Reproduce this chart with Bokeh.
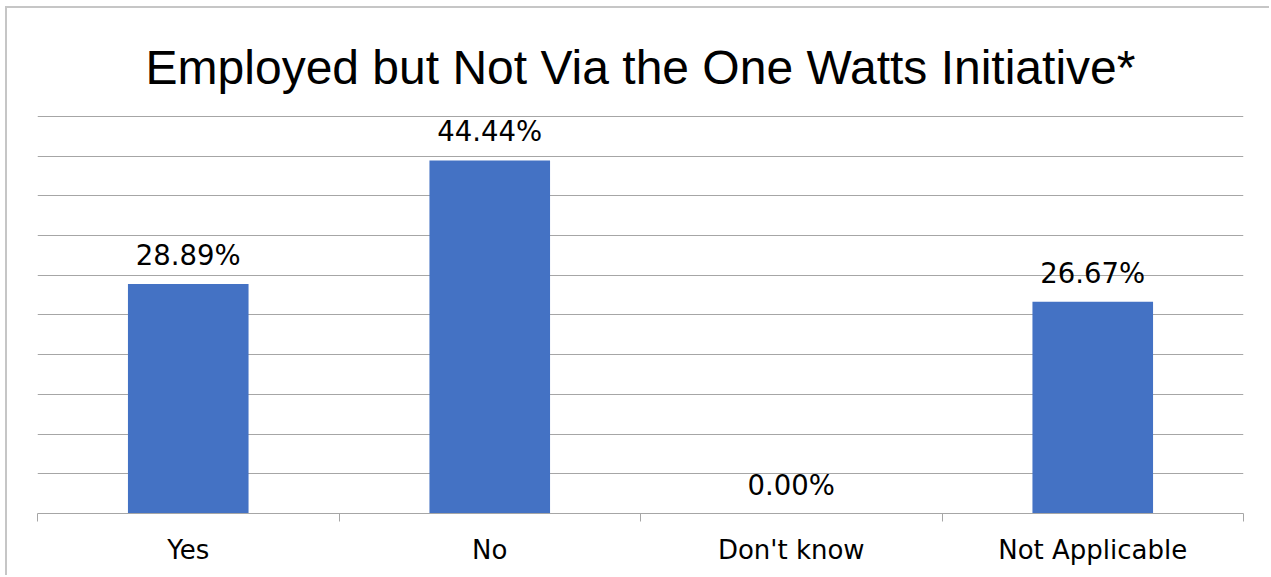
from bokeh.plotting import figure
from bokeh.models import ColumnDataSource, FixedTicker, SingleIntervalTicker, Range1d
from bokeh.core.properties import value
from bokeh.embed import file_html
from bokeh.resources import INLINE

categories = ["Yes", "No", "Don't know", "Not Applicable"]
percentages = [28.89, 44.44, 0.00, 26.67]
label_texts = ["28.89%", "44.44%", "0.00%", "26.67%"]
title_text = "Employed but Not Via the One Watts Initiative*"

xs = [i + 0.5 for i in range(len(categories))]
src = ColumnDataSource(dict(x=xs, top=percentages, lab=label_texts))

p = figure(width=1264, height=569, output_backend="svg", toolbar_location=None,
           x_range=Range1d(0, len(categories)), y_range=Range1d(0, 50.1),
           min_border_left=30, min_border_right=28, min_border_bottom=64, min_border_top=107)
p.styles = {"margin-left": "5px", "margin-top": "6px",
            "border-left": "2px solid #c6c6c6", "border-top": "2px solid #c6c6c6"}

p.title.text = title_text
p.title.text_font = "Liberation Sans"
p.title.text_font_size = "48px"
p.title.text_font_style = "normal"
p.title.align = "center"
p.title.text_color = "#000000"
p.title.offset = 0
p.title.standoff = 44

p.vbar(x="x", top="top", width=0.4, source=src, color="#4472C4", line_color=None)
p.text(x="x", y="top", text="lab", source=src, text_align="center",
       text_baseline="alphabetic", y_offset=-29,
       text_font=value("DejaVu Sans"), text_font_size="27.5px", text_color="#000000")

p.outline_line_color = None
p.yaxis.visible = False
p.xgrid.visible = False
p.ygrid.ticker = SingleIntervalTicker(interval=5)
p.ygrid.grid_line_color = "#a6a6a6"
p.ygrid.grid_line_width = 1

ax = p.xaxis[0]
ax.ticker = FixedTicker(ticks=xs, minor_ticks=list(range(len(categories) + 1)))
ax.major_label_overrides = {x: c for x, c in zip(xs, categories)}
ax.major_tick_out = 0
ax.major_tick_in = 0
ax.minor_tick_out = 8
ax.minor_tick_in = 0
ax.minor_tick_line_color = "#a6a6a6"
ax.axis_line_color = "#a6a6a6"
ax.major_label_text_font = "DejaVu Sans"
ax.major_label_text_font_size = "26px"
ax.major_label_text_color = "#000000"
ax.major_label_standoff = 13

open("out.html", "w").write(file_html(p, INLINE))
